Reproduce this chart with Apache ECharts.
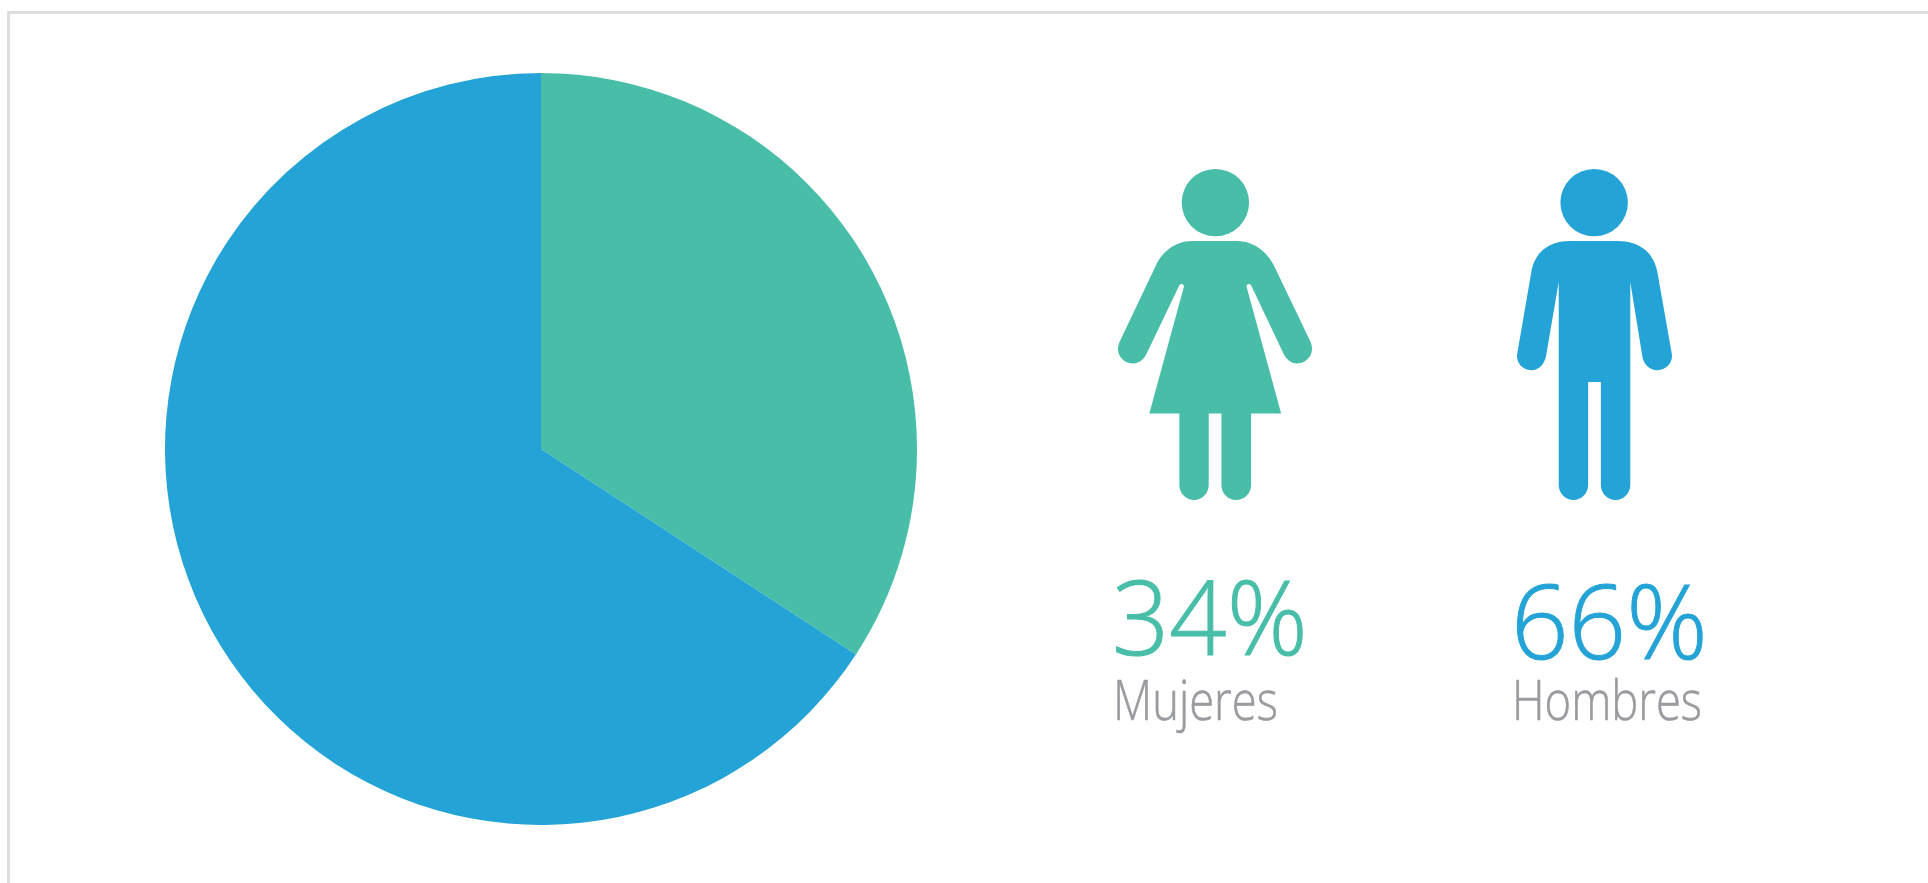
<!DOCTYPE html>
<html>
<head>
<meta charset="utf-8">
<title>Mujeres y Hombres</title>
<script src="https://cdn.jsdelivr.net/npm/echarts@6/dist/echarts.min.js"></script>
<style>
    html,body{margin:0;padding:0;background:#fff;overflow:hidden;}
    #container{width:1928px;height:883px;}
</style>
</head>
<body>
<div id="container"></div>
<script>
    var categories=["Mujeres", "Hombres"];
    var values=[34.2, 65.8];
    var colors=["#48BEA8", "#24A3D6"];
    //icon outlines
    var woman_icon="M375 56A101 101 0 1 1 374.9 56Z M305 272L440 272C490 272 530 305 550 345L660 575C675 610 650 640 620 640C600 640 587 625 580 612L482 405C478 400 470 400 468 408L572 790L482 790L482 1005C482 1030 462 1050 437 1050C412 1050 393 1030 393 1005L393 790L355 790L355 1005C355 1030 335 1050 311 1050C287 1050 267 1030 267 1005L267 790L177 790L281 408C279 400 271 400 267 405L168 612C160 628 145 640 127 640C98 640 72 610 88 575L197 345C215 305 255 272 305 272Z";
    var man_icon="M341 56A101 101 0 1 1 340.9 56Z M270 272L410 272C480 272 520 310 530 365L573 610C578 635 558 660 530 660C505 660 488 640 485 618L449 395L449 1005C449 1030 429 1050 405 1050C381 1050 361 1030 361 1005L361 696L323 696L323 1005C323 1030 303 1050 279 1050C255 1050 235 1030 235 1005L235 395L197 618C192 640 178 660 153 660C125 660 106 635 111 610L153 365C163 310 200 272 270 272Z";
    var icons=[woman_icon, man_icon];
    var icon_boxes=[[1118,169,194,331], [1517,169,155,331]];

    function Build_Text(str,x,y,size,color,scale,bold)
    {
        return {
            type:'text',
            x:x,
            y:y,
            scaleX:scale,
            silent:true,
            style:{
                text:str,
                fill:color,
                stroke:color,
                lineWidth:bold,
                font:'300 '+size+'px "Open Sans"',
                textAlign:'left',
                textVerticalAlign:'bottom'
            }
        };
    }

    function Render_Icon(params)
    {
        var i=params.dataIndex;
        var box=icon_boxes[i];
        return {
            type:'path',
            shape:{pathData:icons[i],layout:'cover',x:box[0],y:box[1],width:box[2],height:box[3]},
            style:{fill:colors[i]},
            silent:true
        };
    }

    function Build_Chart()
    {
        var pie_data=[];
        for(var i=0;i<categories.length;i++)
            pie_data.push({name:categories[i],value:values[i],itemStyle:{color:colors[i]}});

        var myChart=echarts.init(document.getElementById("container"),null,{renderer:'canvas'});
        myChart.setOption({
            animation:false,
            backgroundColor:'#fff',
            series:[
                {
                    type:'pie',
                    center:[541,449],
                    radius:[0,376],
                    startAngle:90,
                    clockwise:true,
                    silent:true,
                    label:{show:false},
                    labelLine:{show:false},
                    data:pie_data
                },
                {
                    type:'custom',
                    coordinateSystem:'none',
                    silent:true,
                    renderItem:Render_Icon,
                    data:[0,1]
                }
            ],
            graphic:[
                //frame of the page, open on the right and at the bottom
                {type:'rect',shape:{x:7,y:11,width:1921,height:3},style:{fill:'#dddddd'},silent:true},
                {type:'rect',shape:{x:7,y:11,width:3,height:872},style:{fill:'#dddddd'},silent:true},
                Build_Text(Math.round(values[0])+'%',1112,677.5,103,colors[0],0.975,1),
                Build_Text(Math.round(values[1])+'%',1511,681.5,103,colors[1],0.98,1),
                Build_Text(categories[0],1113,732,56,'#999b9e',0.81,0.6),
                Build_Text(categories[1],1512,732,56,'#999b9e',0.81,0.6)
            ]
        });
    }
    Build_Chart();
</script>
</body>
</html>
